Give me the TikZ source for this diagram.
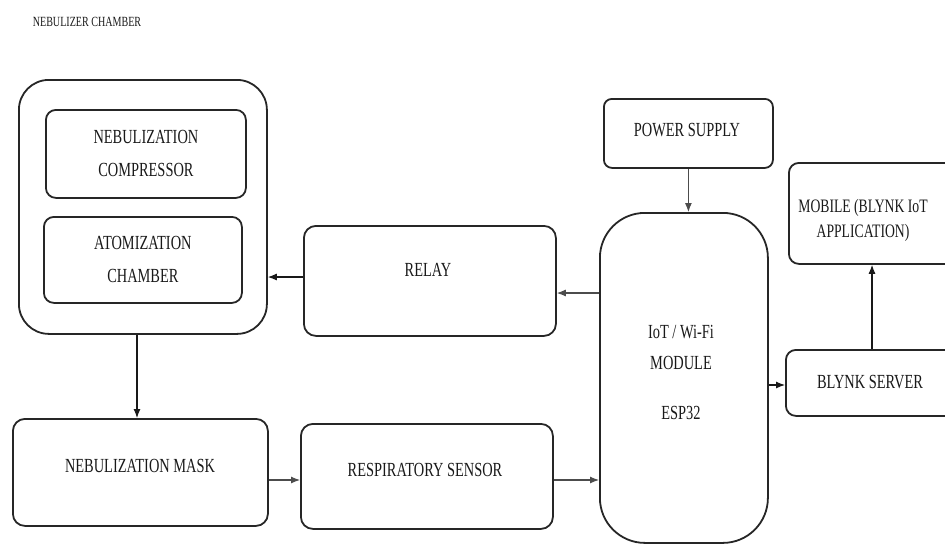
\documentclass[tikz,border=0pt]{standalone}
\usepackage{fontspec}
\setmainfont{Liberation Serif}[FakeStretch=0.72]
\usetikzlibrary{arrows.meta}
\begin{document}
\begin{tikzpicture}[x=1pt,y=-1pt,
  box/.style={draw=black!85, line width=1.8pt, rounded corners=#1, anchor=north west, inner sep=0pt},
  box/.default=10pt,
  lbl/.style={font=\fontsize{20}{33}\selectfont, text=black!90, align=center},
  arr/.style={-{Latex[length=9pt,width=7pt]}, line width=1.1pt, draw=black!70}
]
\useasboundingbox (0,0) rectangle (945,544);

% title label
\node[font=\fontsize{14}{16}\selectfont, text=black!90] (title) at (87,22) {NEBULIZER CHAMBER};

% nebulizer chamber container
\node[box=30pt, minimum width=248pt, minimum height=254pt] (chamber) at (18,79) {};
\node[box, lbl, minimum width=200pt, minimum height=88pt] (comp) at (45,109) {NEBULIZATION\\COMPRESSOR};
\node[box, lbl, minimum width=198pt, minimum height=86pt] (atom) at (43,216) {ATOMIZATION\\CHAMBER};

% relay
\node[box=12pt, minimum width=252pt, minimum height=110pt] (relay) at (303,225) {};
\node[lbl] (relayt) at (428,270) {RELAY};

% power supply
\node[box=8pt, minimum width=169pt, minimum height=69pt] (power) at (603,98) {};
\node[lbl] (powert) at (687,130) {POWER SUPPLY};

% esp32 module
\node[box=45pt, minimum width=168pt, minimum height=330pt] (esp) at (599,212) {};
\node[lbl, font=\fontsize{20}{31}\selectfont] (espt) at (681,372) {IoT / Wi-Fi\\MODULE\\[19pt]ESP32};

% mobile
\node[box=10pt, minimum width=175pt, minimum height=101pt] (mobile) at (788,162) {};
\node[lbl, font=\fontsize{19}{25}\selectfont] (mobilet) at (863,220) {MOBILE (BLYNK IoT\\APPLICATION)};

% blynk server
\node[box=10pt, minimum width=175pt, minimum height=66pt] (blynk) at (785,349) {};
\node[lbl] (blynkt) at (870,382) {BLYNK SERVER};

% mask and sensor
\node[box=12pt, minimum width=255pt, minimum height=107pt] (mask) at (12,418) {};
\node[lbl] (maskt) at (140,466) {NEBULIZATION MASK};
\node[box=12pt, minimum width=252pt, minimum height=105pt] (sensor) at (300,423) {};
\node[lbl] (sensort) at (425,470) {RESPIRATORY SENSOR};

% helper coordinates
\coordinate (r1) at (0,277);
\coordinate (r2) at (0,293);
\coordinate (r3) at (0,480);
\coordinate (r4) at (0,385);
\coordinate (c1) at (137,0);
\coordinate (c2) at (872,0);

% connectors
\draw[arr, draw=black!90] (relay.west |- r1) -- (chamber.east |- r1);
\draw[arr] (esp.west |- r2) -- (relay.east |- r2);
\draw[arr] (power.south) -- (power.south |- esp.north);
\draw[arr, draw=black!90] (chamber.south -| c1) -- (mask.north -| c1);
\draw[arr] (mask.east |- r3) -- (sensor.west |- r3);
\draw[arr] (sensor.east |- r3) -- (esp.west |- r3);
\draw[arr, draw=black!90] (esp.east |- r4) -- (blynk.west |- r4);
\draw[arr, draw=black!90] (blynk.north -| c2) -- (mobile.south -| c2);
\end{tikzpicture}
\end{document}
